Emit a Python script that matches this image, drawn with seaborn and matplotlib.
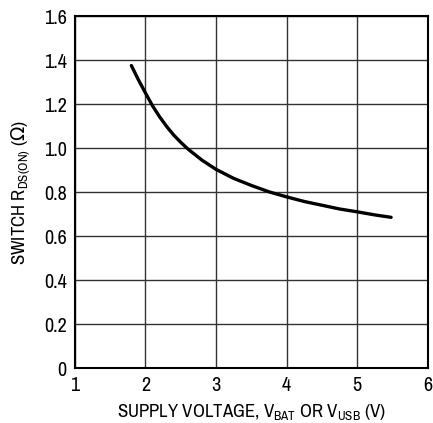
from matplotlib import pyplot as plt
from matplotlib import font_manager
import seaborn as sns
import pandas as pd

# Data
supply_v = [1.80, 1.90, 2.00, 2.10, 2.20, 2.30, 2.40, 2.50, 2.60, 2.80, 3.00,
            3.25, 3.50, 3.75, 4.00, 4.25, 4.50, 4.75, 5.00, 5.25, 5.48]
r_ds_on = [1.375, 1.31, 1.25, 1.192, 1.142, 1.098, 1.059, 1.026, 0.996, 0.945, 0.903,
           0.862, 0.830, 0.801, 0.778, 0.757, 0.740, 0.723, 0.710, 0.696, 0.685]
x_ticks = [1, 2, 3, 4, 5, 6]
y_ticks = [0, 0.2, 0.4, 0.6, 0.8, 1.0, 1.2, 1.4, 1.6]
y_tick_labels = ["0", "0.2", "0.4", "0.6", "0.8", "1.0", "1.2", "1.4", "1.6"]

df = pd.DataFrame({"V": supply_v, "R": r_ds_on})

sns.set_style("white")

# look for a narrow sans font, else fall back to Liberation Sans
narrow = None
for f in font_manager.fontManager.ttflist:
    if "Narrow" in f.name or ("Condensed" in f.name and "Sans" in f.name):
        narrow = f.name
        break
font = narrow if narrow else "Liberation Sans"
plt.rcParams["font.family"] = [font, "DejaVu Sans"]
plt.rcParams["mathtext.fontset"] = "custom"
plt.rcParams["mathtext.rm"] = font
plt.rcParams["mathtext.sf"] = "DejaVu Sans"  # for the omega sign

fig = plt.figure(figsize=(4.33, 4.23), dpi=100)
ax = fig.add_axes([0.173, 0.130, 0.815, 0.832])

sns.lineplot(data=df, x="V", y="R", color="black", linewidth=2.4, ax=ax)

ax.set_xlim(1, 6)
ax.set_ylim(0, 1.6)
ax.set_xticks(x_ticks)
ax.set_yticks(y_ticks)
ax.set_yticklabels(y_tick_labels)
ax.grid(True, color="#333333", linewidth=1.0)
for s in ax.spines.values():
    s.set_color("black")
    s.set_linewidth(1.5)
ax.tick_params(length=0, labelsize=14.5, pad=6, colors="black")

ax.set_xlabel("SUPPLY VOLTAGE, V$_{\\mathregular{BAT}}$ OR V$_{\\mathregular{USB}}$ (V)",
              fontsize=13.5, labelpad=5.5, color="black")
ax.set_ylabel("SWITCH R$_{\\mathregular{DS(ON)}}$ ($\\mathsf{Ω}$)", fontsize=13.5,
              labelpad=8, color="black")

plt.savefig("out.png", dpi=100)
